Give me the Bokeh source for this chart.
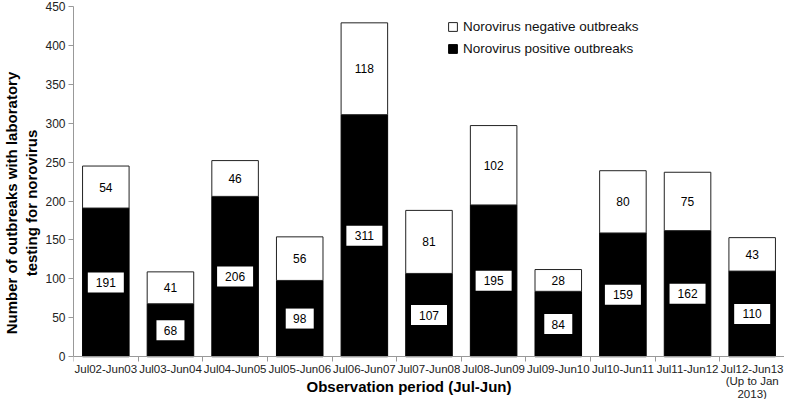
from bokeh.plotting import figure
from bokeh.models import (ColumnDataSource, FixedTicker, Range1d, Legend, LegendItem, LinearAxis)
from bokeh.core.properties import value
from bokeh.embed import file_html
from bokeh.resources import INLINE

periods = ["Jul02-Jun03", "Jul03-Jun04", "Jul04-Jun05", "Jul05-Jun06", "Jul06-Jun07",
           "Jul07-Jun08", "Jul08-Jun09", "Jul09-Jun10", "Jul10-Jun11", "Jul11-Jun12",
           "Jul12-Jun13\n(Up to Jan\n2013)"]
positive = [191, 68, 206, 98, 311, 107, 195, 84, 159, 162, 110]
negative = [54, 41, 46, 56, 118, 81, 102, 28, 80, 75, 43]
y_ticks = [0, 50, 100, 150, 200, 250, 300, 350, 400, 450]

FONT = "Liberation Sans"
Y_MIN, Y_MAX = 0, 450
BELOW = -55.0   # room under the zero line for category labels and the axis title

xs = list(range(len(periods)))
src = ColumnDataSource(dict(
    x=xs,
    pos=positive,
    neg=negative,
    top=[p + n for p, n in zip(positive, negative)],
    pos_mid=[p / 2 for p in positive],
    neg_mid=[p + n / 2 for p, n in zip(positive, negative)],
    pos_txt=[str(v) for v in positive],
    neg_txt=[str(v) for v in negative],
    box_w=[12 + 8 * len(str(v)) for v in positive],
))
lab_src = ColumnDataSource(dict(x=xs, text=periods))

p = figure(width=784, height=399, output_backend="svg", toolbar_location=None,
           x_range=Range1d(-0.5, len(periods) - 0.5), y_range=Range1d(BELOW, Y_MAX),
           x_axis_location=None,
           min_border_left=40, min_border_right=0, min_border_top=6, min_border_bottom=0)
p.outline_line_color = None
p.xgrid.visible = False
p.ygrid.visible = False
p.background_fill_color = "white"

r_pos = p.vbar(x="x", bottom=0, top="pos", width=0.72, source=src,
               fill_color="black", line_color="black", line_width=1)
r_neg = p.vbar(x="x", bottom="pos", top="top", width=0.72, source=src,
               fill_color="white", line_color="#222222", line_width=1)

p.rect(x="x", y="pos_mid", width="box_w", height=20, width_units="screen",
       height_units="screen", source=src, fill_color="white", line_color=None)
p.text(x="x", y="pos_mid", text="pos_txt", source=src, text_align="center",
       text_baseline="middle", text_font=value(FONT), text_font_size="12px", text_color="black")
p.text(x="x", y="neg_mid", text="neg_txt", source=src, text_align="center",
       text_baseline="middle", text_font=value(FONT), text_font_size="12px", text_color="black")

# x axis line at zero with boundary ticks (placed above so no bottom panel is reserved)
xaxis = LinearAxis(fixed_location=0,
                   ticker=FixedTicker(ticks=[], minor_ticks=[i - 0.5 for i in range(len(periods) + 1)]))
xaxis.minor_tick_out = 0
xaxis.minor_tick_in = 5
xaxis.major_tick_out = 0
xaxis.major_tick_in = 0
xaxis.minor_tick_line_color = "#999999"
xaxis.axis_line_color = "#999999"
xaxis.major_label_text_font_size = "0px"
xaxis.major_label_standoff = 0
p.add_layout(xaxis, "above")

# category labels under the zero line
p.text(x="x", y=0, text="text", source=lab_src, y_offset=6, text_align="center",
       text_baseline="top", text_font=value(FONT), text_font_size="11.5px",
       text_color="#222222", text_line_height=1.05)
p.text(x=[(len(periods) - 1) / 2], y=[0], text=["Observation period (Jul-Jun)"],
       x_offset=-20, y_offset=30, text_align="center", text_baseline="middle",
       text_font=value(FONT), text_font_style="bold", text_font_size="15px", text_color="black")

# y axis
p.yaxis.bounds = (Y_MIN, Y_MAX)
p.yaxis.ticker = FixedTicker(ticks=y_ticks)
p.yaxis.minor_tick_line_color = None
p.yaxis.major_tick_out = 5
p.yaxis.major_tick_in = 0
p.yaxis.axis_line_color = "#999999"
p.yaxis.major_tick_line_color = "#999999"
p.yaxis.major_label_text_font = FONT
p.yaxis.major_label_text_font_size = "12px"
p.yaxis.major_label_text_color = "#222222"
p.yaxis.major_label_standoff = 3
p.yaxis.axis_label = "Number of outbreaks with laboratory\ntesting for norovirus"
p.yaxis.axis_label_text_font = FONT
p.yaxis.axis_label_text_font_style = "bold"
p.yaxis.axis_label_text_font_size = "15px"
p.yaxis.axis_label_text_color = "black"
p.yaxis.axis_label_standoff = 2

legend = Legend(items=[
    LegendItem(label="Norovirus negative outbreaks", renderers=[r_neg]),
    LegendItem(label="Norovirus positive outbreaks", renderers=[r_pos]),
], location=(374, 343))
legend.background_fill_alpha = 0
legend.border_line_color = None
legend.label_text_font = FONT
legend.label_text_font_size = "13.5px"
legend.label_text_color = "#111111"
legend.glyph_width = 11
legend.glyph_height = 11
legend.spacing = 7
legend.label_standoff = 5
legend.padding = 0
legend.margin = 0
p.add_layout(legend)

open("out.html", "w").write(file_html(p, INLINE))
